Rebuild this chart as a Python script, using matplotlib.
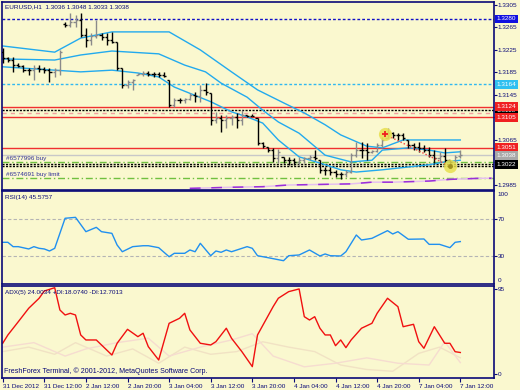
import matplotlib
matplotlib.use('Agg')
import matplotlib.pyplot as plt
import matplotlib.transforms as mtransforms
import numpy as np

plt.rcParams['font.family'] = ['Liberation Sans', 'DejaVu Sans']

# ---------------- data ----------------
opens = [1.3221, 1.3211, 1.3207, 1.3198, 1.3197, 1.3189, 1.3189, 1.3193, 1.3191, 1.3189,
         1.3186, 1.3189, 1.3271, 1.3269, 1.3275, 1.3278, 1.3252, 1.3243, 1.3250, 1.3252,
         1.3248, 1.3243, 1.3239, 1.3193, 1.3163, 1.3168, 1.3181, 1.3182, 1.3184, 1.3182,
         1.3182, 1.3181, 1.3172, 1.3127, 1.3136, 1.3136, 1.3138, 1.3145, 1.3143, 1.3154,
         1.3149, 1.3101, 1.3104, 1.3101, 1.3104, 1.3106, 1.3101, 1.3109, 1.3108, 1.3104,
         1.3060, 1.3053, 1.3047, 1.3033, 1.3035, 1.3029, 1.3029, 1.3026, 1.3029, 1.3033,
         1.3035, 1.3029, 1.3012, 1.3012, 1.3008, 1.3005, 1.3005, 1.3008, 1.3038, 1.3047,
         1.3047, 1.3044, 1.3045, 1.3056, 1.3069, 1.3077, 1.3074, 1.3074, 1.3065, 1.3056,
         1.3053, 1.3051, 1.3047, 1.3038, 1.3033, 1.3037, 1.3029, 1.3026, 1.3036]
highs = [1.3229, 1.3213, 1.3213, 1.3202, 1.3198, 1.3193, 1.3198, 1.3198, 1.3195, 1.3193,
         1.3193, 1.3225, 1.3275, 1.3291, 1.3287, 1.3291, 1.3264, 1.3255, 1.3278, 1.3255,
         1.3255, 1.3257, 1.3239, 1.3193, 1.3172, 1.3173, 1.3184, 1.3188, 1.3188, 1.3186,
         1.3186, 1.3186, 1.3172, 1.3140, 1.3140, 1.3140, 1.3149, 1.3150, 1.3163, 1.3166,
         1.3149, 1.3115, 1.3109, 1.3109, 1.3109, 1.3113, 1.3118, 1.3109, 1.3111, 1.3104,
         1.3061, 1.3053, 1.3051, 1.3049, 1.3035, 1.3035, 1.3033, 1.3035, 1.3035, 1.3038,
         1.3047, 1.3029, 1.3017, 1.3017, 1.3012, 1.3008, 1.3012, 1.3042, 1.3061, 1.3061,
         1.3060, 1.3047, 1.3060, 1.3070, 1.3086, 1.3079, 1.3077, 1.3077, 1.3065, 1.3060,
         1.3061, 1.3056, 1.3053, 1.3047, 1.3044, 1.3051, 1.3029, 1.3038, 1.3048]
lows = [1.3202, 1.3204, 1.3186, 1.3195, 1.3186, 1.3181, 1.3172, 1.3186, 1.3184, 1.3168,
        1.3177, 1.3181, 1.3266, 1.3266, 1.3266, 1.3248, 1.3230, 1.3234, 1.3246, 1.3243,
        1.3234, 1.3237, 1.3189, 1.3157, 1.3157, 1.3154, 1.3181, 1.3179, 1.3179, 1.3177,
        1.3177, 1.3177, 1.3124, 1.3124, 1.3131, 1.3131, 1.3136, 1.3133, 1.3133, 1.3145,
        1.3092, 1.3095, 1.3079, 1.3086, 1.3092, 1.3086, 1.3092, 1.3106, 1.3108, 1.3056,
        1.3051, 1.3044, 1.3026, 1.3024, 1.3024, 1.3021, 1.3021, 1.3021, 1.3024, 1.3029,
        1.3029, 1.3006, 1.3003, 1.3003, 1.2999, 1.2996, 1.2999, 1.3006, 1.3035, 1.3033,
        1.3029, 1.3042, 1.3044, 1.3053, 1.3069, 1.3069, 1.3065, 1.3065, 1.3051, 1.3047,
        1.3044, 1.3044, 1.3035, 1.3024, 1.3026, 1.3024, 1.3015, 1.3026, 1.3033]
closes = [1.3211, 1.3207, 1.3198, 1.3197, 1.3189, 1.3189, 1.3193, 1.3191, 1.3189, 1.3186,
          1.3189, 1.3221, 1.3269, 1.3275, 1.3278, 1.3252, 1.3243, 1.3250, 1.3252, 1.3248,
          1.3243, 1.3239, 1.3193, 1.3163, 1.3168, 1.3172, 1.3182, 1.3184, 1.3182, 1.3182,
          1.3181, 1.3179, 1.3127, 1.3136, 1.3136, 1.3138, 1.3145, 1.3143, 1.3154, 1.3150,
          1.3101, 1.3104, 1.3101, 1.3104, 1.3106, 1.3101, 1.3109, 1.3108, 1.3108, 1.3060,
          1.3054, 1.3047, 1.3033, 1.3044, 1.3029, 1.3029, 1.3026, 1.3029, 1.3033, 1.3035,
          1.3033, 1.3012, 1.3012, 1.3008, 1.3005, 1.3005, 1.3008, 1.3038, 1.3047, 1.3047,
          1.3044, 1.3045, 1.3056, 1.3065, 1.3077, 1.3074, 1.3074, 1.3069, 1.3056, 1.3053,
          1.3051, 1.3047, 1.3038, 1.3033, 1.3037, 1.3029, 1.3026, 1.3035, 1.3038]

# Bollinger bands (bar index, price)
bb_upper_i = [0, 10, 15, 21, 32, 38, 44, 49, 54, 58, 62, 65, 70, 73, 77, 88]
bb_upper_v = [1.3232, 1.3221, 1.3246, 1.3257, 1.3257, 1.3225, 1.3186, 1.3154, 1.3131,
              1.3113, 1.3092, 1.3074, 1.3054, 1.3051, 1.3065, 1.3065]
bb_mid_i = [0, 10, 15, 21, 30, 35, 39, 42, 47, 50, 53, 57, 62, 67, 71, 73, 78, 82, 85, 88]
bb_mid_v = [1.3209, 1.3207, 1.3216, 1.3223, 1.3218, 1.3198, 1.3186, 1.3166, 1.3141, 1.3118,
            1.3097, 1.3077, 1.3038, 1.3026, 1.3029, 1.3047, 1.3051, 1.3047, 1.3042, 1.3044]
bb_low_i = [0, 10, 15, 21, 26, 30, 33, 40, 44, 47, 50, 53, 57, 61, 65, 68, 73, 78, 82, 85, 88]
bb_low_v = [1.3195, 1.3189, 1.3186, 1.3189, 1.3184, 1.3177, 1.3159, 1.3133, 1.3115, 1.3106,
            1.3095, 1.3065, 1.3035, 1.3024, 1.3012, 1.3008, 1.3012, 1.3017, 1.3021, 1.3026, 1.3029]

# purple indicator line near the bottom
purple_i = [36, 44, 50, 55, 61, 67, 71, 75, 82, 86, 92, 94]
purple_v = [1.2979, 1.2981, 1.2982, 1.2985, 1.2986, 1.2987, 1.2990, 1.2990, 1.2992, 1.2995, 1.2997, 1.2997]

# horizontal levels
level_blue = 1.3280
level_cyan = 1.3164
levels_red = [1.3124, 1.3105, 1.3051]
levels_black = [1.3118, 1.3022, 1.3018]
level_pink = 1.3113
levels_green = [1.3025, 1.2997]
level_bid = 1.3038
order_labels = ['#6577996 buy', '#6574691 buy limit']

# trade markers
trade_i = [73.5, 86.1]
trade_v = [1.3075, 1.3018]

price_ticks = [1.3305, 1.3265, 1.3225, 1.3185, 1.3145, 1.3105, 1.3065, 1.3025, 1.2985]

# RSI (bar index, value)
rsi_i = [0, 1, 2, 3, 5, 6, 7, 8, 9, 10, 12, 14, 16, 18, 19, 21, 22, 23, 25, 27, 28, 30, 32, 33,
         35, 36, 37, 38, 40, 41, 42, 43, 44, 47, 48, 49, 51, 54, 55, 57, 59, 61, 62, 63, 65, 66,
         68, 69, 71, 74, 75, 76, 78, 81, 82, 84, 86, 87, 88]
rsi_v = [44.8, 44.8, 40.1, 40.1, 37.6, 40.1, 38.3, 37.6, 35.4, 38.3, 70.8, 71.8, 56.3, 61.0,
         56.3, 54.5, 41.9, 34.6, 40.1, 41.1, 41.1, 39.0, 29.2, 32.9, 32.9, 36.5, 34.6, 43.7,
         30.3, 35.4, 34.0, 36.5, 34.6, 40.1, 38.3, 30.3, 28.2, 24.9, 30.3, 31.1, 36.5, 30.0,
         32.2, 30.3, 30.0, 34.6, 52.7, 47.3, 49.1, 57.4, 53.8, 56.3, 48.1, 48.4, 42.6, 42.6,
         39.0, 44.8, 45.58]

# ADX (bar index, value)
adx_i = [0, 1, 3, 5, 7, 8, 10, 11, 12, 13, 14, 15, 16, 18, 19, 21, 22, 24, 26, 27, 28, 30, 32,
         34, 35, 36, 38, 40, 41, 43, 44, 46, 48, 49, 52, 53, 55, 57, 58, 59, 60, 61, 62, 63, 64,
         65, 66, 67, 69, 71, 72, 74, 76, 77, 79, 80, 81, 83, 85, 86, 87, 88]
adx_v = [34.3, 43.6, 58.4, 73.4, 84.6, 92.7, 96.4, 71.5, 65.9, 67.8, 65.9, 43.6, 38.0, 38.0,
         32.4, 21.2, 34.3, 49.9, 41.7, 45.5, 30.5, 15.6, 56.6, 62.2, 67.8, 49.2, 34.3, 32.4,
         36.1, 51.1, 39.9, 24.9, 8.2, 43.6, 75.2, 84.6, 92.0, 95.0, 64.0, 60.3, 64.0, 51.1,
         43.6, 43.6, 31.6, 38.0, 29.4, 38.0, 51.1, 56.6, 67.8, 84.6, 75.2, 52.8, 55.5, 36.1,
         28.7, 52.8, 34.3, 34.3, 24.9, 24.0]
pdi_i = [0, 5, 10, 14, 20, 25, 30, 35, 40, 45, 50, 55, 60, 65, 70, 75, 80, 84, 88]
pdi_v = [25, 30, 22, 35, 20, 28, 12, 30, 22, 25, 36, 30, 25, 10, 5, 3, 23, 30, 18.07]
mdi_i = [0, 6, 12, 16, 22, 28, 32, 38, 44, 48, 52, 58, 64, 70, 76, 82, 85, 88]
mdi_v = [30, 35, 20, 28, 35, 40, 20, 30, 38, 45, 20, 8, 12, 18, 12, 10, 36, 12.70]

time_ticks = [0, 8, 16, 24, 32, 40, 48, 56, 64, 72, 80, 88]
time_labels = ['31 Dec 2012', '31 Dec 12:00', '2 Jan 12:00', '2 Jan 20:00', '3 Jan 04:00',
               '3 Jan 12:00', '3 Jan 20:00', '4 Jan 04:00', '4 Jan 12:00', '4 Jan 20:00',
               '7 Jan 04:00', '7 Jan 12:00']

# ---------------- style ----------------
BG = '#FAF8CF'
NAVY = '#0A0A78'
BB = '#22AAEE'
FS = 4.6
W, H = 520, 390

fig = plt.figure(figsize=(5.2, 3.9), dpi=100, facecolor=BG)

def px_axes(top, bottom, left=1.5, right=493.5):
    return fig.add_axes([left / W, 1 - bottom / H, (right - left) / W, (bottom - top) / H])

ax = px_axes(1.5, 189.5)
ax2 = px_axes(191, 284)
ax3 = px_axes(286, 378)

XL = (-0.23, 94.38)
for a in (ax, ax2, ax3):
    a.set_facecolor(BG)
    a.set_xlim(*XL)
    for s in a.spines.values():
        s.set_color(NAVY)
        s.set_linewidth(1.2)
    a.tick_params(axis='y', left=False, right=True, labelleft=False, labelright=True,
                  length=2.2, width=0.8, color=NAVY, labelsize=FS, labelcolor=NAVY, pad=1.0)
    a.tick_params(axis='x', bottom=False, labelbottom=False)

# ---- main price panel ----
ax.set_ylim(1.2977, 1.3311)
ax.set_yticks(price_ticks)
ax.set_yticklabels(['%.4f' % p for p in price_ticks])

ax.axhline(level_blue, color='#1010C8', lw=1, ls=(0, (2, 1.5)), zorder=1)
ax.axhline(level_cyan, color='#30B8F0', lw=1, ls=(0, (2, 1.5)), zorder=1)
for lv in levels_red:
    ax.axhline(lv, color='#F03030', lw=1, zorder=1)
for lv in levels_black:
    ax.axhline(lv, color='black', lw=1, ls=(0, (1.5, 1)), zorder=1)
ax.axhline(level_pink, color='#F0A0A0', lw=1, ls=(0, (3, 3)), zorder=1)
for lv in levels_green:
    ax.axhline(lv, color='#70C040', lw=1, ls=(0, (5, 2, 1, 2)), zorder=1)
ax.axhline(level_bid, color='#C8C8C8', lw=1, zorder=1)

for lv, lab in zip(levels_green, order_labels):
    ax.annotate(lab, xy=(0, lv), xycoords=mtransforms.blended_transform_factory(ax.transAxes, ax.transData),
                xytext=(3, 1.2), textcoords='offset points', fontsize=FS, color='#303098',
                ha='left', va='bottom')

ax.plot(purple_i, purple_v, color='#E6C0F0', lw=1.1, zorder=2)
ax.plot(purple_i, purple_v, color='#9A30D8', lw=1.1, ls=(0, (7, 7)), zorder=2)

ax.plot(bb_upper_i, bb_upper_v, color=BB, lw=1, zorder=2)
ax.plot(bb_mid_i, bb_mid_v, color=BB, lw=1, zorder=2)
ax.plot(bb_low_i, bb_low_v, color=BB, lw=1, zorder=2)

idx = np.arange(len(closes))
o = np.array(opens); c = np.array(closes)
cols = ['#8A8A8A' if cc > oo else 'black' for oo, cc in zip(o, c)]
tk = 0.4
ax.vlines(idx, lows, highs, colors=cols, lw=1, zorder=3)
ax.hlines(opens, idx - tk, idx, colors=cols, lw=1, zorder=3)
ax.hlines(closes, idx, idx + tk, colors=cols, lw=1, zorder=3)

# trade markers
ax.plot(trade_i, trade_v, color='#F04040', lw=1, ls=(0, (1, 1.5)), zorder=4)
ax.plot(trade_i, trade_v, 'o', ms=9.5, mfc='#E8E050', mec='none', alpha=0.85, zorder=5)
ax.plot(trade_i[0], trade_v[0], '+', color='#F02020', ms=4, mew=1.3, zorder=6)
ax.plot(trade_i[1], trade_v[1], 'o', color='#A09020', ms=2.5, zorder=6)

ax.text(0.008, 0.985, 'EURUSD,H1  1.3036 1.3048 1.3033 1.3038', transform=ax.transAxes,
        fontsize=FS, color=NAVY, ha='left', va='top')

btr = mtransforms.offset_copy(mtransforms.blended_transform_factory(ax.transAxes, ax.transData),
                              fig=fig, x=2.2, y=0, units='points')

def tag(y, fc, tc='white', z=7):
    ax.text(1.0, y, '%.4f' % y, transform=btr, ha='left', va='center', fontsize=FS, color=tc,
            bbox=dict(boxstyle='square,pad=0.3', fc=fc, ec='none'), zorder=z, clip_on=False)

tag(levels_black[0], 'black', z=6)
tag(level_blue, '#1010E0')
tag(level_cyan, '#30C0F0')
for lv in levels_red:
    tag(lv, '#F02020')
tag(level_bid, '#A8A8A8')
tag(levels_black[1], 'black')

# ---- RSI panel ----
ax2.set_ylim(-0.3, 100.3)
ax2.set_yticks([70, 30])
ax2.set_yticklabels(['70', '30'])
for lv in (70, 30):
    ax2.axhline(lv, color='#B4B4B4', lw=0.8, ls=(0, (3, 2)))
ax2.plot(rsi_i, rsi_v, color='#2090F0', lw=1)
ax2.text(0.008, 0.96, 'RSI(14) 45.5757', transform=ax2.transAxes, fontsize=FS,
         color=NAVY, ha='left', va='top')
rtr = mtransforms.offset_copy(mtransforms.blended_transform_factory(ax2.transAxes, ax2.transData),
                              fig=fig, x=3.2, y=0, units='points')
ax2.text(1.0, 96, '100', transform=rtr, fontsize=FS, color=NAVY, ha='left', va='center', clip_on=False)
ax2.text(1.0, 4, '0', transform=rtr, fontsize=FS, color=NAVY, ha='left', va='center', clip_on=False)

# ---- ADX panel ----
ax3.set_ylim(-4.5, 98.3)
ax3.set_yticks([95, 0])
ax3.set_yticklabels(['95', '0'])
ax3.plot(pdi_i, pdi_v, color='#F1E2C4', lw=1)
ax3.plot(mdi_i, mdi_v, color='#F6DCD0', lw=1)
ax3.plot(adx_i, adx_v, color='#F01010', lw=1)
ax3.text(0.008, 0.96, 'ADX(5) 24.0034 +DI:18.0740 -DI:12.7013', transform=ax3.transAxes,
         fontsize=FS, color=NAVY, ha='left', va='top')
ax3.text(0.005, 0.03, 'FreshForex Terminal, \u00a9 2001-2012, MetaQuotes Software Corp.',
         transform=ax3.transAxes, fontsize=FS + 0.5, color=NAVY, ha='left', va='bottom')
ax3.set_xticks(time_ticks)
ax3.set_xticklabels(time_labels, ha='left')
ax3.tick_params(axis='x', bottom=True, labelbottom=True, length=3, width=0.8, color=NAVY,
                labelsize=FS, labelcolor=NAVY, pad=1.5)

fig.savefig('out.png', dpi=100, facecolor=BG)
